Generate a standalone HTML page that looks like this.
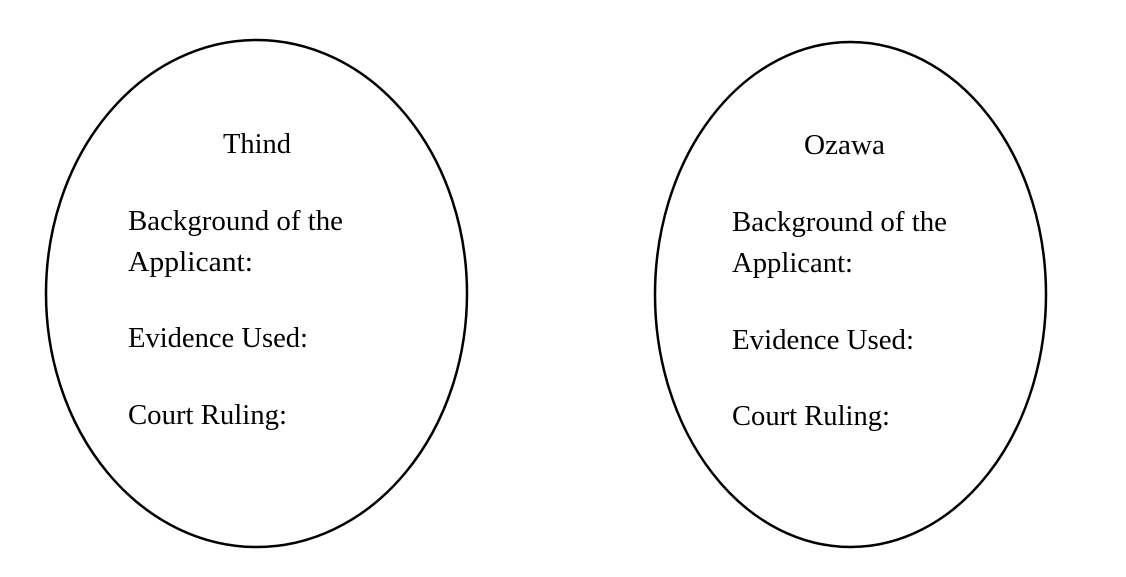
<!DOCTYPE html>
<html><head><style>
html,body{margin:0;padding:0;background:#fff;}
svg{display:block;}
text{font-family:"Liberation Serif",serif;font-size:28px;fill:#000;}
</style></head><body>
<svg width="1126" height="577" viewBox="0 0 1126 577" xmlns="http://www.w3.org/2000/svg">
<ellipse cx="256.5" cy="293.5" rx="210.5" ry="253.5" fill="none" stroke="#000" stroke-width="2.5"/>
<ellipse cx="850.5" cy="294.5" rx="195.5" ry="252.5" fill="none" stroke="#000" stroke-width="2.5"/>
<text x="223" y="153" textLength="68" lengthAdjust="spacingAndGlyphs">Thind</text>
<text x="128" y="230" textLength="215" lengthAdjust="spacingAndGlyphs">Background of the</text>
<text x="128" y="271" textLength="125" lengthAdjust="spacingAndGlyphs">Applicant:</text>
<text x="128" y="347" textLength="180" lengthAdjust="spacingAndGlyphs">Evidence Used:</text>
<text x="128" y="424" textLength="159" lengthAdjust="spacingAndGlyphs">Court Ruling:</text>
<text x="804" y="154" textLength="81" lengthAdjust="spacingAndGlyphs">Ozawa</text>
<text x="732" y="231" textLength="215" lengthAdjust="spacingAndGlyphs">Background of the</text>
<text x="732" y="272" textLength="121" lengthAdjust="spacingAndGlyphs">Applicant:</text>
<text x="732" y="349" textLength="182" lengthAdjust="spacingAndGlyphs">Evidence Used:</text>
<text x="732" y="425" textLength="158" lengthAdjust="spacingAndGlyphs">Court Ruling:</text>
</svg>
</body></html>
